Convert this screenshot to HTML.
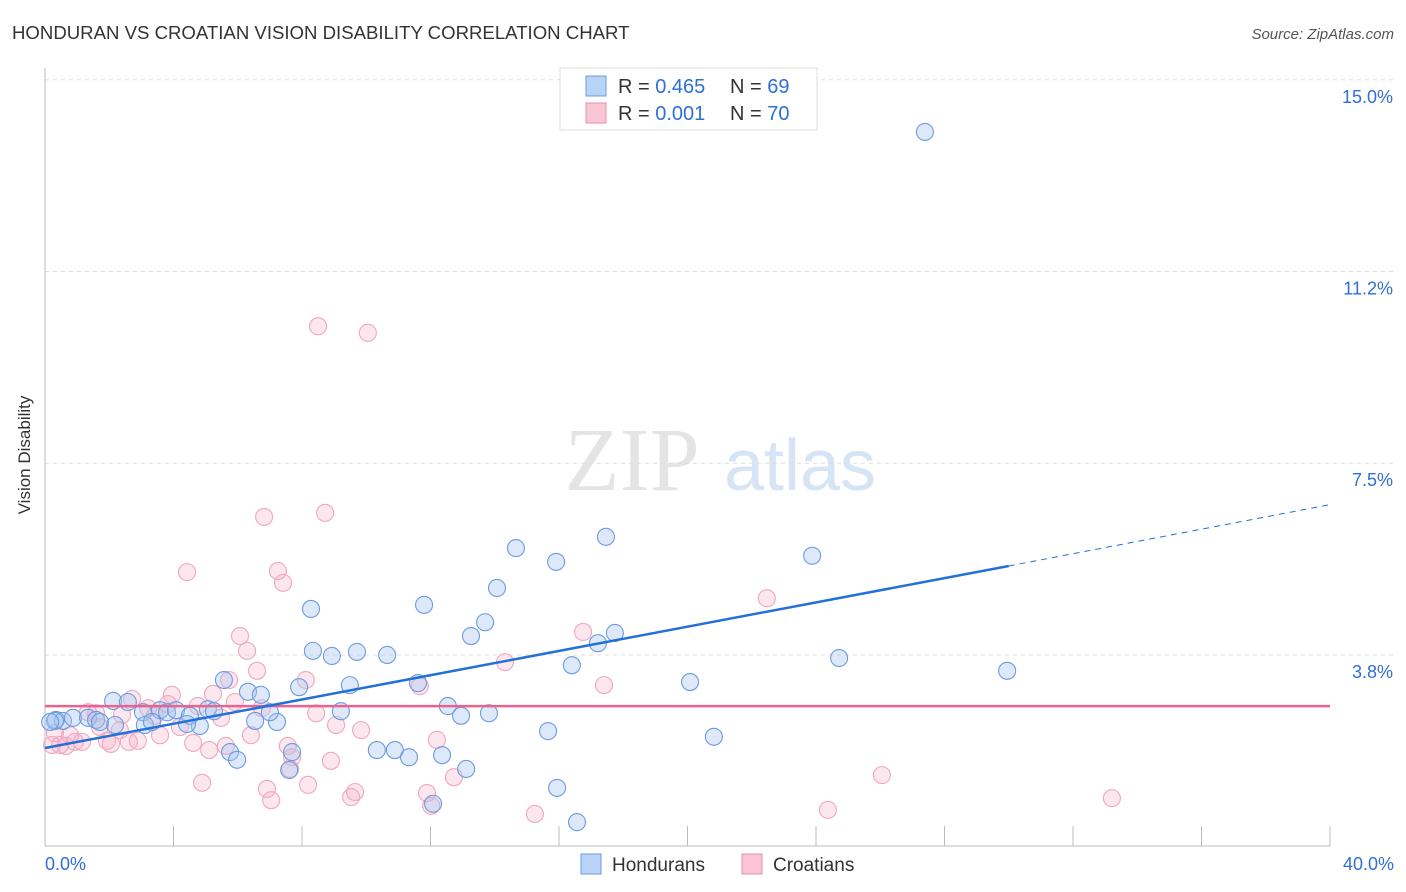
<!DOCTYPE html>
<html><head><meta charset="utf-8"><style>
body{margin:0;background:#fff;font-family:"Liberation Sans",sans-serif}
</style></head><body>
<svg id="c" width="1406" height="892" style="display:block">
<text x="12" y="39" font-size="18.6" fill="#333">HONDURAN VS CROATIAN VISION DISABILITY CORRELATION CHART</text>
<text x="1394" y="39" font-size="15" fill="#555" font-style="italic" text-anchor="end">Source: ZipAtlas.com</text>
<text x="30" y="455" font-size="17" fill="#333" transform="rotate(-90 30 455)" text-anchor="middle">Vision Disability</text>
<g><text x="632" y="490" font-size="90" fill="#e4e4e4" font-family="Liberation Serif" text-anchor="middle">ZIP</text><text x="800" y="490" font-size="72" fill="#d6e4f5" text-anchor="middle">atlas</text></g>
<g id="grid"></g><g id="marks"></g>
<g>
<rect x="560" y="68" width="257" height="62" fill="#fff" stroke="#ddd"/>
<rect x="586" y="76" width="20" height="20" fill="#b8d3f5" stroke="#6a9be0"/>
<rect x="586" y="103" width="20" height="20" fill="#f9c6d6" stroke="#ea8fae"/>
<text x="618" y="93" font-size="20" fill="#333">R = <tspan fill="#2f6fd6">0.465</tspan></text>
<text x="730" y="93" font-size="20" fill="#333">N = <tspan fill="#2f6fd6">69</tspan></text>
<text x="618" y="120" font-size="20" fill="#333">R = <tspan fill="#2f6fd6">0.001</tspan></text>
<text x="730" y="120" font-size="20" fill="#333">N = <tspan fill="#2f6fd6">70</tspan></text>
</g>
<g>
<rect x="581" y="854" width="20" height="20" fill="#b8d3f5" stroke="#6a9be0"/>
<text x="612" y="871" font-size="19" fill="#333">Hondurans</text>
<rect x="742" y="854" width="20" height="20" fill="#f9c6d6" stroke="#ea8fae"/>
<text x="773" y="871" font-size="19" fill="#333">Croatians</text>
</g>
</svg>
<script>
const yTicks=[3.75,7.5,11.25,15];
const yTickLabels=["3.8%","7.5%","11.2%","15.0%"];
const blueX=[],blueY=[],pinkX=[],pinkY=[];
const bluePx=[[925,132],[516,548],[606,537],[556,562],[812,556],[497,588],[424,605],[311,609],[485,622],[471,636],[615,633],[598,643],[313,651],[332,656],[357,652],[387,655],[572,665],[839,658],[1007,671],[690,682],[224,680],[248,692],[261,695],[299,687],[350,685],[418,683],[113,701],[128,702],[143,712],[160,710],[167,712],[176,710],[190,716],[208,709],[214,711],[200,726],[187,724],[255,721],[277,722],[270,712],[341,711],[448,706],[461,716],[489,713],[548,731],[56,720],[63,721],[73,718],[88,718],[96,720],[55,721],[115,725],[145,725],[230,752],[237,760],[292,752],[377,750],[395,750],[409,757],[442,755],[466,769],[289,770],[714,737],[557,788],[433,804],[577,822],[152,722],[100,722],[50,722]];
const pinkPx=[[318,326],[368,333],[264,517],[325,513],[187,572],[278,571],[283,583],[767,598],[583,632],[240,636],[247,651],[505,662],[257,671],[604,685],[306,680],[420,686],[229,680],[172,695],[213,694],[132,699],[88,712],[96,713],[235,702],[262,708],[198,706],[168,704],[148,708],[316,713],[221,718],[122,715],[155,716],[180,727],[336,725],[361,730],[251,735],[100,727],[70,735],[55,733],[52,745],[60,745],[66,746],[75,742],[82,742],[107,741],[111,744],[129,742],[138,741],[160,735],[193,743],[209,750],[226,746],[288,746],[292,757],[437,740],[331,761],[454,777],[290,769],[882,775],[202,783],[267,789],[271,800],[308,785],[351,797],[355,792],[427,793],[431,806],[535,814],[828,810],[1112,798],[120,730]];
const X0=45,X1=1330,Y0=846.7,YS=51.13;
bluePx.forEach(p=>{blueX.push(+((p[0]-X0)/(X1-X0)*40).toFixed(2));blueY.push(+((Y0-p[1])/YS).toFixed(2));});
pinkPx.forEach(p=>{pinkX.push(+((p[0]-X0)/(X1-X0)*40).toFixed(2));pinkY.push(+((Y0-p[1])/YS).toFixed(2));});
const blueTrend=[1.93,5.49,6.69];const blueTrendX=[0,30,40];
const pinkTrend=[2.75,2.75];
const sx=v=>X0+v/40*(X1-X0), sy=v=>Y0-v*YS;
const NS="http://www.w3.org/2000/svg";
function mk(t,a,p){const e=document.createElementNS(NS,t);for(const k in a)e.setAttribute(k,a[k]);p.appendChild(e);return e;}
const g=document.getElementById('grid'),m=document.getElementById('marks');
yTicks.forEach((v,i)=>{const l=mk('line',{x1:45,x2:1395,y1:sy(v),y2:sy(v),stroke:'#ddd','stroke-dasharray':'4 4'},g);

const t=mk('text',{x:1393,y:sy(v)+23,'font-size':18,fill:'#2f6fd6','text-anchor':'end'},g);t.textContent=yTickLabels[i];
});
const ax=mk('line',{x1:45,x2:45,y1:68,y2:846,stroke:'#bbb'},g);
const bx=mk('line',{x1:45,x2:1330,y1:846,y2:846,stroke:'#bbb'},g);
for(let i=1;i<=10;i++){const x=sx(i*4);const t=mk('line',{x1:x,x2:x,y1:826,y2:846,stroke:'#bbb'},g);}
[["0.0%",45,"start"],["40.0%",1394,"end"]].forEach(a=>{const t=mk('text',{x:a[1],y:870,'font-size':18,fill:'#2f6fd6','text-anchor':a[2]},g);t.textContent=a[0];});
pinkX.forEach((x,i)=>{const c=mk('circle',{cx:sx(x),cy:sy(pinkY[i]),r:8.5,fill:'rgba(246,175,198,0.3)',stroke:'#f0a6bf','stroke-width':1.1},m);
});
blueX.forEach((x,i)=>{const c=mk('circle',{cx:sx(x),cy:sy(blueY[i]),r:8.5,fill:'rgba(165,198,240,0.38)',stroke:'#6c9be0','stroke-width':1.1},m);
});
const pl=mk('line',{x1:sx(0),x2:sx(40),y1:sy(pinkTrend[0]),y2:sy(pinkTrend[1]),stroke:'#e8648f','stroke-width':2.5},m);

const b1=mk('line',{x1:sx(blueTrendX[0]),y1:sy(blueTrend[0]),x2:sx(blueTrendX[1]),y2:sy(blueTrend[1]),stroke:'#2270d8','stroke-width':2.5},m);

const b2=mk('line',{x1:sx(blueTrendX[1]),y1:sy(blueTrend[1]),x2:sx(blueTrendX[2]),y2:sy(blueTrend[2]),stroke:'#2270d8','stroke-width':1,'stroke-dasharray':'6 5'},m);

</script>
</body></html>
